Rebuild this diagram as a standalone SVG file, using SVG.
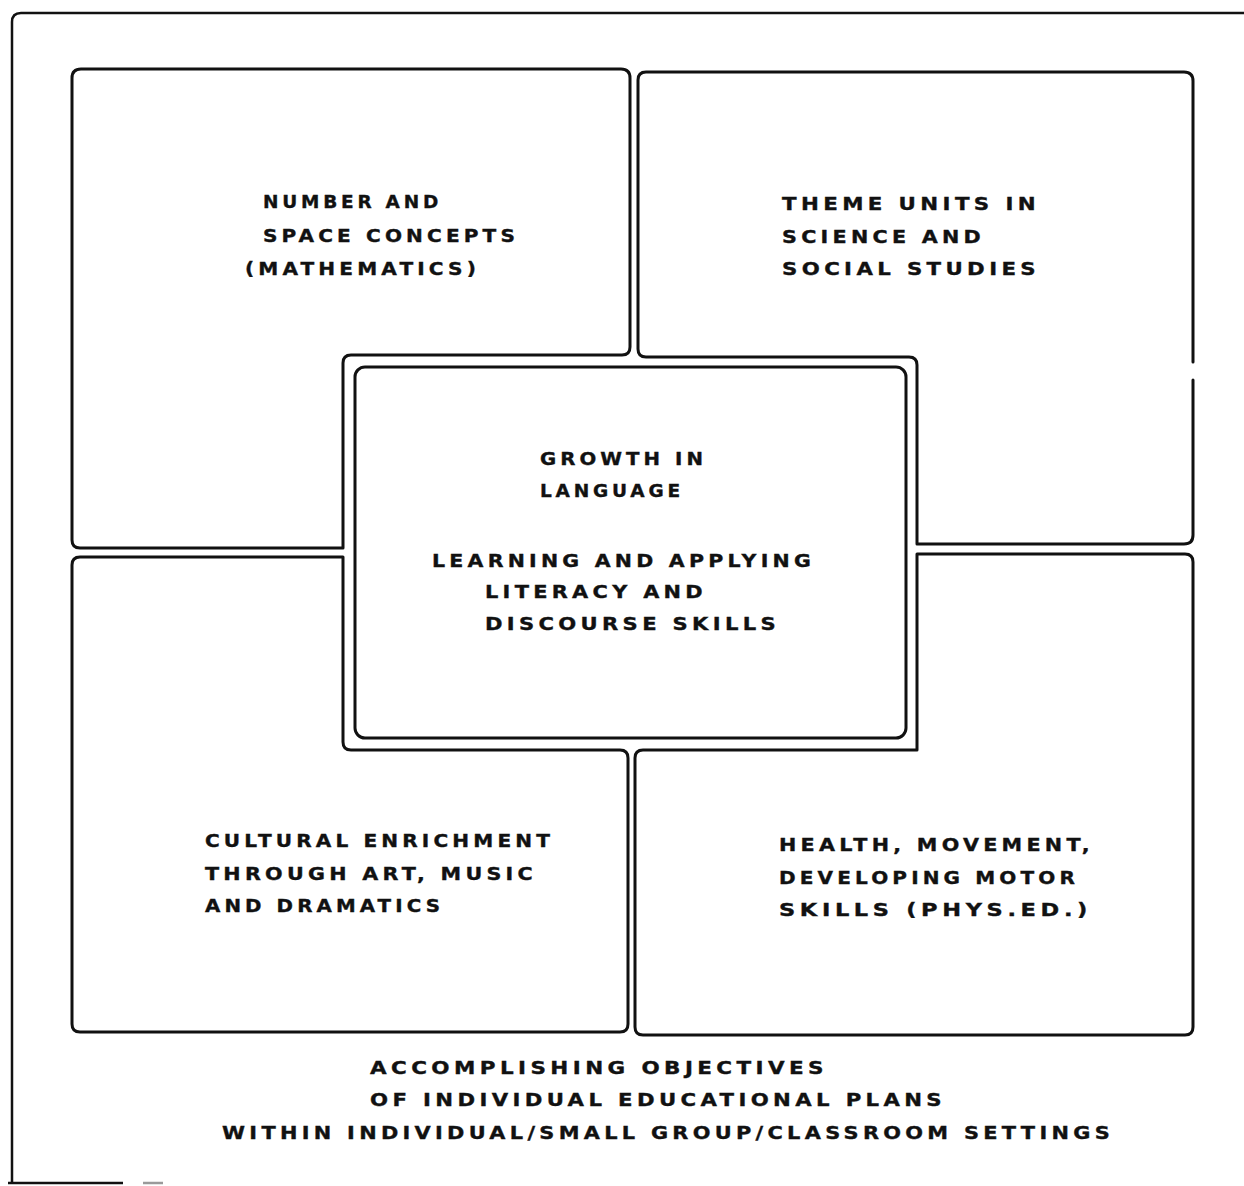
<svg xmlns="http://www.w3.org/2000/svg" width="1244" height="1186" viewBox="0 0 1244 1186">
  <style>
    .edge { fill: none; stroke: #111; stroke-width: 3; stroke-linejoin: round; stroke-linecap: round; }
    .frame { fill: none; stroke: #111; stroke-width: 2.5; stroke-linecap: butt; }
    .lbl { font-family: "DejaVu Sans", "Liberation Sans", sans-serif; font-weight: bold; font-size: 17px; letter-spacing: 3.5px; fill: #111; stroke: #111; stroke-width: 0.35; }
  </style>
  <rect width="1244" height="1186" fill="#fff"/>

  <!-- page frame -->
  <g id="frame">
    <path class="frame" d="M12,1183 L12,22 Q12,13 21,13 L1244,13"/>
    <path class="frame" d="M8,1183 L123,1183"/>
    <path d="M143,1183 L163,1183" stroke="#9a9a9a" stroke-width="2.5" fill="none"/>
  </g>

  <!-- upper-left quadrant: mathematics -->
  <g id="math">
    <path class="edge" d="M72,540 L72,78 Q72,69 81,69 L621,69 Q630,69 630,78 L630,347 Q630,355 622,355 L351,355 Q343,355 343,363 L343,548 L80,548 Q72,548 72,540 Z"/>
    <text class="lbl" x="263" y="208" textLength="179" lengthAdjust="spacingAndGlyphs">NUMBER AND</text>
    <text class="lbl" x="263" y="242" textLength="256" lengthAdjust="spacingAndGlyphs">SPACE CONCEPTS</text>
    <text class="lbl" x="245" y="275" textLength="235" lengthAdjust="spacingAndGlyphs">(MATHEMATICS)</text>
  </g>

  <!-- upper-right quadrant: science and social studies -->
  <g id="themes">
    <path class="edge" d="M1193,380 L1193,535 Q1193,544 1184,544 L917,544 L917,365 Q917,357 909,357 L646,357 Q638,357 638,349 L638,80 Q638,72 646,72 L1184,72 Q1193,72 1193,81 L1193,362"/>
    <text class="lbl" x="782" y="210" textLength="258" lengthAdjust="spacingAndGlyphs">THEME UNITS IN</text>
    <text class="lbl" x="782" y="243" textLength="203" lengthAdjust="spacingAndGlyphs">SCIENCE AND</text>
    <text class="lbl" x="782" y="275" textLength="258" lengthAdjust="spacingAndGlyphs">SOCIAL STUDIES</text>
  </g>

  <!-- lower-left quadrant: cultural enrichment -->
  <g id="culture">
    <path class="edge" d="M72,565 Q72,557 80,557 L343,557 L343,742 Q343,750 351,750 L620,750 Q628,750 628,758 L628,1024 Q628,1032 620,1032 L80,1032 Q72,1032 72,1024 Z"/>
    <text class="lbl" x="205" y="847" textLength="349" lengthAdjust="spacingAndGlyphs">CULTURAL ENRICHMENT</text>
    <text class="lbl" x="205" y="880" textLength="332" lengthAdjust="spacingAndGlyphs">THROUGH ART, MUSIC</text>
    <text class="lbl" x="205" y="912" textLength="239" lengthAdjust="spacingAndGlyphs">AND DRAMATICS</text>
  </g>

  <!-- lower-right quadrant: physical education -->
  <g id="health">
    <path class="edge" d="M917,554 L1185,554 Q1193,554 1193,562 L1193,1027 Q1193,1035 1185,1035 L643,1035 Q635,1035 635,1027 L635,758 Q635,750 643,750 L917,750 Z"/>
    <text class="lbl" x="779" y="851" textLength="315" lengthAdjust="spacingAndGlyphs">HEALTH, MOVEMENT,</text>
    <text class="lbl" x="779" y="884" textLength="300" lengthAdjust="spacingAndGlyphs">DEVELOPING MOTOR</text>
    <text class="lbl" x="779" y="916" textLength="313" lengthAdjust="spacingAndGlyphs">SKILLS (PHYS.ED.)</text>
  </g>

  <!-- centre: language -->
  <g id="language">
    <rect class="edge" x="355" y="367" width="551" height="371" rx="10"/>
    <text class="lbl" x="540" y="465" textLength="167" lengthAdjust="spacingAndGlyphs">GROWTH IN</text>
    <text class="lbl" x="540" y="497" textLength="144" lengthAdjust="spacingAndGlyphs">LANGUAGE</text>
    <text class="lbl" x="432" y="567" textLength="383" lengthAdjust="spacingAndGlyphs">LEARNING AND APPLYING</text>
    <text class="lbl" x="485" y="598" textLength="222" lengthAdjust="spacingAndGlyphs">LITERACY AND</text>
    <text class="lbl" x="485" y="630" textLength="295" lengthAdjust="spacingAndGlyphs">DISCOURSE SKILLS</text>
  </g>

  <!-- caption under the quadrants -->
  <g id="caption">
    <text class="lbl" x="370" y="1074" textLength="458" lengthAdjust="spacingAndGlyphs">ACCOMPLISHING OBJECTIVES</text>
    <text class="lbl" x="370" y="1106" textLength="576" lengthAdjust="spacingAndGlyphs">OF INDIVIDUAL EDUCATIONAL PLANS</text>
    <text class="lbl" x="222" y="1139" textLength="892" lengthAdjust="spacingAndGlyphs">WITHIN INDIVIDUAL/SMALL GROUP/CLASSROOM SETTINGS</text>
  </g>
</svg>
